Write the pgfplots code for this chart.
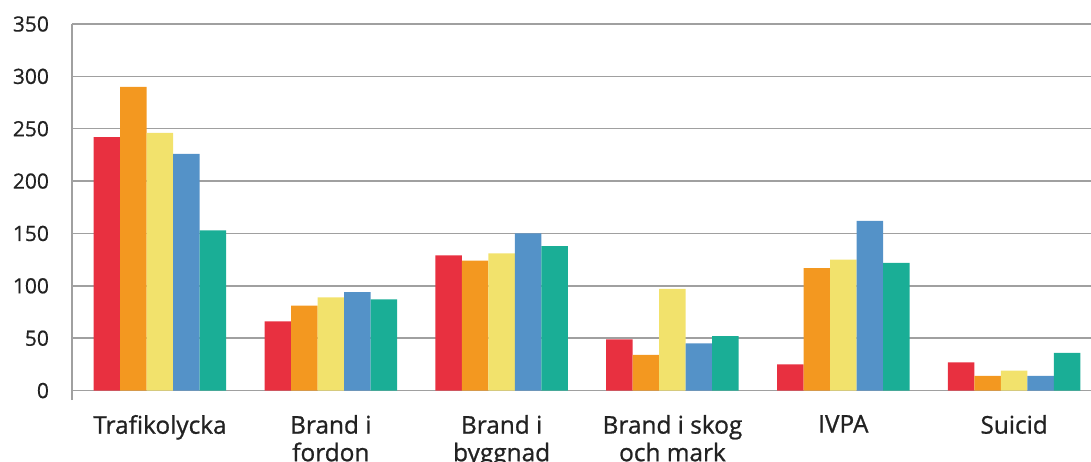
\documentclass[border=0pt]{standalone}
\usepackage{fontspec}
\setmainfont{Open Sans}
\newfontfamily\labfont{Open Sans}[FakeBold=0.9]
\newfontfamily\tickfont{Open Sans}[FakeBold=0.5]
\usepackage{pgfplots}
\pgfplotsset{compat=1.18}

\definecolor{cRed}{RGB}{232,48,64}
\definecolor{cOrange}{RGB}{243,152,32}
\definecolor{cYellow}{RGB}{242,226,108}
\definecolor{cBlue}{RGB}{84,146,200}
\definecolor{cTeal}{RGB}{26,174,150}
\definecolor{gridgray}{RGB}{160,160,160}
\definecolor{txt}{RGB}{34,34,34}

\begin{document}
\begin{tikzpicture}
\begin{axis}[
    scale only axis,
    width=509.5pt, height=188pt,
    xmin=-0.515, xmax=5.45,
    ymin=-9, ymax=350,
    ybar=0pt, bar width=13.25pt,
    axis lines=left,
    axis line style={-, color=gridgray, line width=0.75pt},
    x axis line style={draw=none},
    ytick={0,50,...,350},
    ymajorgrids,
    grid style={color=gridgray, line width=0.75pt},
    major tick length=0pt,
    xtick={0,1,2,3,4,5},
    xticklabels={Trafikolycka,{Brand i\\fordon},{Brand i\\byggnad},{Brand i skog\\och mark},IVPA,Suicid},
    xticklabel style={align=center, text=txt, font=\labfont\fontsize{12.2}{13.8}\selectfont, yshift=-4pt},
    yticklabel style={text=txt, font=\tickfont\fontsize{10.5}{12}\selectfont, xshift=-8pt},
    /pgf/number format/assume math mode=true,
]
\addplot[fill=cRed, draw=none] coordinates {(0,242) (1,66) (2,129) (3,49) (4,25) (5,27)};
\addplot[fill=cOrange, draw=none] coordinates {(0,290) (1,81) (2,124) (3,34) (4,117) (5,14)};
\addplot[fill=cYellow, draw=none] coordinates {(0,246) (1,89) (2,131) (3,97) (4,125) (5,19)};
\addplot[fill=cBlue, draw=none] coordinates {(0,226) (1,94) (2,150) (3,45) (4,162) (5,14)};
\addplot[fill=cTeal, draw=none] coordinates {(0,153) (1,87) (2,138) (3,52) (4,122) (5,36)};
\end{axis}
\pgfresetboundingbox
\useasboundingbox (-36pt,-30.5pt) rectangle (509.5pt,200pt);
\end{tikzpicture}
\end{document}
